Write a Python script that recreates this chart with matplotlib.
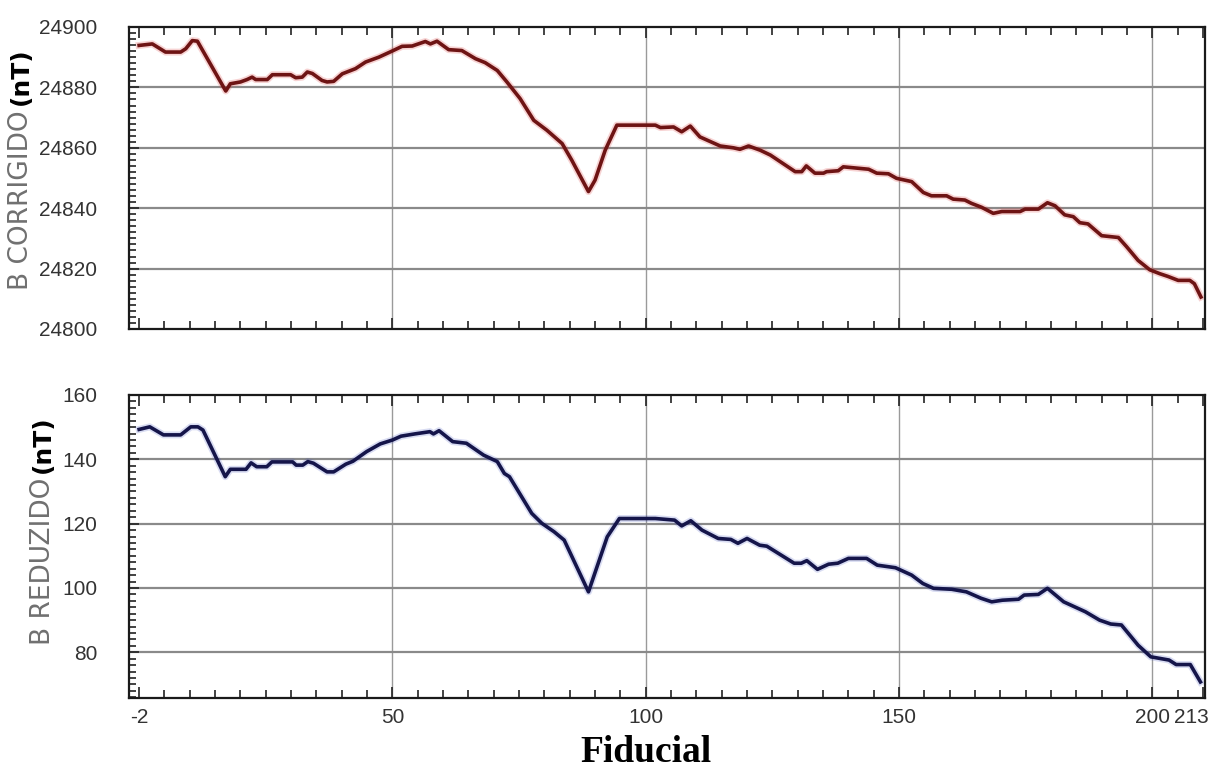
import matplotlib
matplotlib.use("Agg")
import matplotlib.pyplot as plt
from matplotlib.ticker import FixedLocator, MultipleLocator

# fiducial positions (same grid for both panels)
top_x = [0, 1.6, 2.6, 5.2, 8.2, 9.2, 10.5, 11.5, 17.1, 18.0, 20.0, 21.3, 22.3, 23.0,
         25.3, 26.3, 29.9, 30.9, 32.2, 33.2, 34.2, 36.1, 37.1, 38.4, 40.1, 42.7,
         44.7, 47.3, 49.9, 51.9, 53.9, 56.5, 57.5, 58.8, 61.1, 63.7, 66.4, 68.3,
         70.7, 72.6, 75.2, 77.9, 80.5, 83.5, 85.4, 88.7, 90.0, 92.0, 94.3, 101.9,
         102.9, 105.5, 107.1, 108.8, 110.7, 114.7, 117.3, 118.6, 120.3, 122.6,
         124.6, 129.5, 130.8, 131.7, 133.4, 135.1, 135.7, 138.0, 139.0, 144.0,
         145.6, 147.9, 149.5, 152.5, 154.8, 156.4, 159.4, 160.7, 163.0, 164.3,
         166.3, 168.6, 170.3, 173.9, 174.9, 177.5, 179.3, 180.8, 182.7, 184.4,
         185.7, 187.3, 190.0, 193.3, 194.9, 197.2, 199.5, 201.5, 203.1, 205.1,
         207.4, 208.3, 209.6]
b_corrigido = [24893.9, 24894.2, 24894.4, 24891.7, 24891.7, 24892.8, 24895.5, 24895.3,
               24878.8, 24881.2, 24881.8, 24882.6, 24883.4, 24882.6, 24882.6, 24884.2,
               24884.2, 24883.2, 24883.4, 24885.1, 24884.6, 24882.3, 24881.8, 24882.0,
               24884.5, 24886.2, 24888.4, 24890.0, 24892.0, 24893.6, 24893.7, 24895.2,
               24894.4, 24895.3, 24892.5, 24892.2, 24889.5, 24888.2, 24885.6, 24881.8,
               24876.3, 24869.1, 24865.8, 24861.4, 24855.9, 24845.5, 24849.3, 24859.2,
               24867.5, 24867.5, 24866.7, 24866.9, 24865.3, 24867.2, 24863.6, 24860.6,
               24860.0, 24859.5, 24860.6, 24859.2, 24857.6, 24852.1, 24852.1, 24854.0,
               24851.6, 24851.6, 24852.1, 24852.4, 24853.7, 24852.9, 24851.6, 24851.4,
               24849.9, 24848.8, 24845.2, 24844.1, 24844.1, 24843.0, 24842.7, 24841.6,
               24840.3, 24838.3, 24838.9, 24838.9, 24839.7, 24839.7, 24841.8, 24840.8,
               24837.8, 24837.2, 24835.2, 24834.8, 24830.9, 24830.3, 24827.3, 24822.7,
               24819.6, 24818.3, 24817.4, 24816.1, 24816.1, 24815.0, 24810.6]

bot_x = [0, 2.1, 4.8, 8.2, 10.2, 11.6, 12.6, 17.0, 18.0, 21.1, 22.1, 23.2, 25.2, 26.2,
         30.3, 31.0, 32.3, 33.3, 34.4, 37.1, 38.4, 40.8, 42.2, 44.9, 47.6, 50.0,
         51.7, 54.4, 57.4, 58.1, 59.2, 61.9, 64.6, 68.0, 70.7, 72.1, 73.1, 77.5,
         79.5, 81.9, 83.9, 88.7, 92.4, 94.8, 101.9, 105.7, 107.1, 108.9, 111.1,
         114.3, 116.8, 118.2, 120.0, 122.5, 123.9, 129.3, 130.7, 131.8, 133.9,
         136.1, 137.9, 140.0, 143.6, 145.7, 149.3, 152.5, 154.7, 156.8, 160.4,
         163.3, 166.2, 168.3, 170.4, 173.6, 174.7, 177.5, 179.3, 182.5, 186.8,
         189.6, 191.8, 193.9, 197.2, 199.7, 203.3, 204.7, 207.5, 209.5]
b_reduzido = [149.3, 150.1, 147.6, 147.6, 150.1, 150.1, 149.1, 134.6, 136.9, 136.9,
              138.9, 137.7, 137.7, 139.2, 139.2, 138.2, 138.2, 139.3, 138.8, 136.1,
              136.1, 138.5, 139.4, 142.4, 144.8, 146.0, 147.2, 147.9, 148.6, 147.9,
              148.9, 145.5, 145.0, 141.3, 139.3, 135.6, 134.6, 123.2, 120.1, 117.5,
              114.9, 98.8, 115.9, 121.6, 121.6, 121.1, 119.3, 120.9, 118.0, 115.4,
              115.1, 113.9, 115.4, 113.3, 113.0, 107.7, 107.7, 108.5, 105.8, 107.4,
              107.7, 109.2, 109.2, 107.1, 106.3, 104.0, 101.4, 99.9, 99.6, 98.8,
              96.8, 95.7, 96.2, 96.5, 97.8, 98.0, 99.9, 95.7, 92.6, 90.0, 88.8,
              88.5, 82.2, 78.6, 77.6, 76.2, 76.2, 70.8]

xtick_pos = [0, 50, 100, 150, 200, 210]
xtick_labels = ["-2", "50", "100", "150", "200", "213"]
xgrid = [50, 100, 150, 200]
top_yticks = [24800, 24820, 24840, 24860, 24880, 24900]
bot_yticks = [80, 100, 120, 140, 160]

W, H = 1208, 769
narrow = ["Liberation Sans Narrow", "Liberation Sans", "DejaVu Sans"]

fig = plt.figure(figsize=(W / 100, H / 100), dpi=100)


def px_axes(l, t, r, b):
    return fig.add_axes([l / W, 1 - b / H, (r - l) / W, (b - t) / H])


def style(ax, yticks, ymin, ymax, show_x):
    ax.set_xlim(-2, 210.4)
    ax.set_ylim(ymin, ymax)
    for v in xgrid:
        ax.axvline(v, color="#9a9a9a", lw=1.0, zorder=1)
    for v in yticks:
        if ymin < v < ymax:
            ax.axhline(v, color="#8a8a8a", lw=1.6, zorder=1)
    ax.xaxis.set_major_locator(FixedLocator(xtick_pos))
    ax.xaxis.set_minor_locator(MultipleLocator(5))
    ax.set_yticks(yticks)
    ax.yaxis.set_minor_locator(MultipleLocator(2))
    ax.tick_params(axis="x", which="both", direction="in", top=True, bottom=True,
                   width=1.2, color="#222222")
    ax.tick_params(axis="x", which="major", length=8, pad=7)
    ax.tick_params(axis="x", which="minor", length=6)
    ax.tick_params(axis="y", which="both", direction="in", left=True, right=False,
                   width=1.2, color="#222222")
    ax.tick_params(axis="y", which="major", length=7, pad=23)
    ax.tick_params(axis="y", which="minor", length=5)
    if show_x:
        # the end label sits on the right edge, it is drawn a bit to the left below
        ax.set_xticklabels(xtick_labels[:-1] + [""])
        ax.annotate(xtick_labels[-1], xy=(xtick_pos[-1], 0),
                    xycoords=ax.get_xaxis_transform(), xytext=(-8, -7),
                    textcoords="offset points", ha="center", va="top",
                    family=narrow, fontstretch="condensed", fontsize=15,
                    color="#333333")
    else:
        ax.set_xticklabels([])
    for t in ax.get_yticklabels():
        t.set_family(narrow)
        t.set_stretch("condensed")
        t.set_fontsize(15)
        t.set_color("#333333")
    for t in ax.get_xticklabels():
        t.set_family(narrow)
        t.set_stretch("condensed")
        t.set_fontsize(15)
        t.set_color("#333333")
    for s in ax.spines.values():
        s.set_linewidth(1.6)
        s.set_color("#1a1a1a")


ax1 = px_axes(129, 27, 1205, 329)
ax1.plot(top_x, b_corrigido, color="#e05050", lw=5, alpha=0.25, zorder=2)
ax1.plot(top_x, b_corrigido, color="#6e1414", lw=2.6, zorder=3)
style(ax1, top_yticks, 24800, 24900, False)

ax2 = px_axes(129, 395, 1205, 698)
ax2.plot(bot_x, b_reduzido, color="#4050c0", lw=5, alpha=0.2, zorder=2)
ax2.plot(bot_x, b_reduzido, color="#15154a", lw=2.6, zorder=3)
style(ax2, bot_yticks, 65.8, 160, True)

renderer = fig.canvas.get_renderer()


def ylabel(text, xc, ybottom):
    t = fig.text(xc / W, 1 - ybottom / H, text, rotation=90, rotation_mode="anchor",
                 ha="left", va="center", color="#707070", fontsize=19,
                 family="DejaVu Sans")
    bb = t.get_window_extent(renderer=renderer)
    fig.text(xc / W, (bb.y1 + 5) / H, "(nT)", rotation=90, rotation_mode="anchor",
             ha="left", va="center", color="black", fontsize=18, fontweight="bold",
             family="DejaVu Sans")


ylabel("B CORRIGIDO", 21, 290)
ylabel("B REDUZIDO", 43, 645)

fig.text(646 / W, 1 - 753 / H, "Fiducial", ha="center", va="center",
         family="Liberation Serif", fontweight="bold", fontsize=27)

fig.savefig("out.png", dpi=100)
